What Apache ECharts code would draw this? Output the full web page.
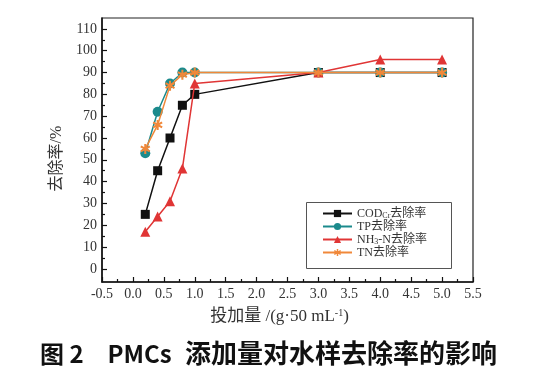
<!DOCTYPE html>
<html>
<head>
<meta charset="utf-8">
<script src="https://cdn.jsdelivr.net/npm/echarts@6/dist/echarts.min.js"></script>
<style>html,body{margin:0;padding:0;background:#fff}#c{width:545px;height:374px}</style>
</head>
<body>
<div id="c"></div>
<script>
const xValues = [0.2, 0.4, 0.6, 0.8, 1.0, 3.0, 4.0, 5.0];
const codCr = [25, 45, 60, 75, 80, 90, 90, 90];
const tp = [53, 72, 85, 90, 90, 90, 90, 90];
const nh3n = [17, 24, 31, 46, 85, 90, 96, 96];
const tn = [55, 66, 84, 89, 90, 90, 90, 90];
const yMajorTicks = [0, 10, 20, 30, 40, 50, 60, 70, 80, 90, 100, 110];
const yMinorTicks = [5, 15, 25, 35, 45, 55, 65, 75, 85, 95, 105];
const seriesNames = ['COD', 'TP', 'NH3N', 'TN'];
const legendLabels = {
  COD: 'COD{sub|Cr}去除率',
  TP: 'TP去除率',
  NH3N: 'NH{sub|3}-N去除率',
  TN: 'TN去除率'
};
const captionHead = '图 2\u3000PMCs';
const captionTail = '添加量对水样去除率的影响';

const serif = '"Liberation Serif", "DejaVu Serif", "Noto Sans CJK SC", serif';
const asterisk = 'path://M-1,-5L1,-5L1,5L-1,5Z M3.83,-3.366L4.83,-1.634L-3.83,3.366L-4.83,1.634Z M-4.83,-1.634L-3.83,-3.366L4.83,1.634L3.83,3.366Z';

function pairs(ys) { return xValues.map((x, i) => [x, ys[i]]); }

const chart = echarts.init(document.getElementById('c'), null, {renderer: 'canvas'});
chart.setOption({
  animation: false,
  backgroundColor: '#fff',
  grid: {left: 102, top: 18, right: 72, bottom: 92, show: true, borderColor: '#222', borderWidth: 1.2, backgroundColor: 'transparent'},
  xAxis: {
    type: 'value', min: -0.5, max: 5.5, interval: 0.5,
    axisLine: {onZero: false, lineStyle: {color: '#111', width: 1.5}},
    axisTick: {inside: true, length: 5, lineStyle: {color: '#111', width: 1.2}},
    minorTick: {show: true, splitNumber: 2, length: 3, lineStyle: {color: '#111', width: 1.2}},
    splitLine: {show: false},
    axisLabel: {margin: 5, color: '#333', fontFamily: serif, fontSize: 14, formatter: v => v.toFixed(1)},
    name: '投加量 /(g·50 mL{sup|-1})',
    nameLocation: 'middle', nameGap: 26,
    nameTextStyle: {color: '#333', fontFamily: serif, fontSize: 17, padding: [0, 16, 0, 0],
      rich: {sup: {fontSize: 10, fontFamily: serif, color: '#333', padding: [0, 0, 8, 0]}}}
  },
  yAxis: [{
    type: 'value', min: -6, max: 115,
    axisLine: {show: true, onZero: false, lineStyle: {color: '#111', width: 1.5}},
    axisTick: {show: true, inside: true, length: 5, customValues: yMajorTicks, lineStyle: {color: '#111', width: 1.2}},
    splitLine: {show: false},
    axisLabel: {margin: 5, color: '#333', fontFamily: serif, fontSize: 14, customValues: yMajorTicks},
    name: '去除率/%', nameLocation: 'middle', nameGap: 32, nameRotate: 90,
    nameTextStyle: {color: '#333', fontFamily: serif, fontSize: 16, padding: [0, 17, 0, 0]}
  }, {
    type: 'value', min: -6, max: 115, position: 'left', offset: 0,
    axisLine: {show: false, onZero: false},
    axisTick: {show: true, inside: true, length: 3, customValues: yMinorTicks, lineStyle: {color: '#111', width: 1.2}},
    splitLine: {show: false},
    axisLabel: {show: false}
  }],
  legend: {
    orient: 'vertical', left: 322, top: 207, padding: 0, itemGap: 0,
    itemWidth: 29, itemHeight: 9,
    data: seriesNames,
    formatter: n => legendLabels[n],
    textStyle: {color: '#333', fontFamily: serif, fontSize: 12, lineHeight: 13,
      rich: {sub: {fontSize: 8, fontFamily: serif, color: '#333', lineHeight: 13, padding: [4, 0, 0, 0]}}}
  },
  graphic: [
    {type: 'rect', left: 304, top: 200, shape: {width: 145, height: 66}, style: {fill: 'none', stroke: '#555', lineWidth: 1}, z: 1},
    {type: 'text', left: 40, top: 342, style: {text: captionHead, fill: '#111', font: 'bold 24px "Noto Sans CJK SC", sans-serif'}},
    {type: 'text', left: 185, top: 340, style: {text: captionTail, fill: '#111', font: 'bold 26px "Noto Sans CJK SC", sans-serif'}}
  ],
  series: [
    {name: 'COD', type: 'line', data: pairs(codCr), symbol: 'rect', symbolSize: 9,
      itemStyle: {color: '#111'}, lineStyle: {color: '#111', width: 1.5}, z: 3},
    {name: 'TP', type: 'line', data: pairs(tp), symbol: 'circle', symbolSize: 10,
      itemStyle: {color: '#1b8a8c'}, lineStyle: {color: '#1b8a8c', width: 1.5}, z: 4},
    {name: 'NH3N', type: 'line', data: pairs(nh3n), symbol: 'triangle', symbolSize: 10,
      itemStyle: {color: '#e03535'}, lineStyle: {color: '#e03535', width: 1.5}, z: 5},
    {name: 'TN', type: 'line', data: pairs(tn), symbol: asterisk, symbolSize: 10,
      itemStyle: {color: '#f0883a'}, lineStyle: {color: '#f0883a', width: 1.5}, z: 6}
  ]
});
</script>
</body>
</html>
